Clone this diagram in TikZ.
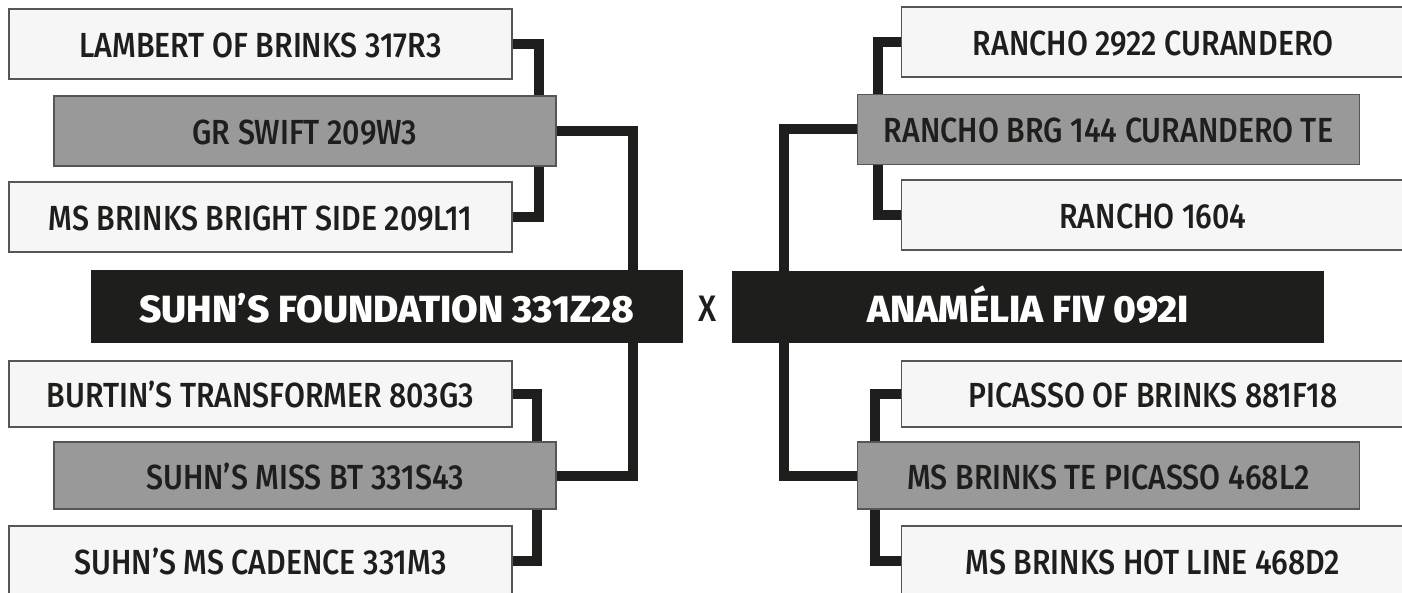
\documentclass[tikz,border=0pt]{standalone}
\usepackage{fontspec}
\setmainfont{Fira Sans}[UprightFont=* Medium,FakeStretch=0.87]
\newfontfamily\headfont{Fira Sans}[UprightFont=* ExtraBold,FakeStretch=1.02]
\usetikzlibrary{calc,positioning,backgrounds}
\definecolor{ink}{HTML}{1E1E1C}
\definecolor{paper}{HTML}{F6F6F6}
\definecolor{midgray}{HTML}{999999}

\begin{document}
\begin{tikzpicture}[x=1bp,y=-1bp,
anbox/.style={draw=ink!75,line width=1.5bp,fill=paper,text=ink,inner sep=0pt,
  text height=27bp,text depth=0pt,
  minimum width=503bp,minimum height=70bp,font=\fontsize{35}{40}\selectfont},
pbox/.style={anbox,fill=midgray,minimum width=502bp},
mainbox/.style={anbox,draw=ink,fill=ink,text=white,minimum width=590bp,minimum height=71bp,
  text height=31.5bp,font=\fontsize{38}{42}\headfont},
link/.style={draw=ink,line width=10bp}]
\useasboundingbox (0,0) rectangle (1402,593);
% sire side
\node[anbox] (lam) at (260.5,44) {LAMBERT OF BRINKS 317R3};
\node[pbox] (grs) at (305,131) {GR SWIFT 209W3};
\node[anbox] (bri) at (260.5,217) {MS BRINKS BRIGHT SIDE 209L11};
\node[mainbox] (sire) at (387,306.5) {SUHN’S FOUNDATION 331Z28};
\node[anbox,minimum height=66bp] (bur) at (260.5,394) {BURTIN’S TRANSFORMER 803G3};
\node[pbox,minimum height=67bp] (mis) at (305,475.5) {SUHN’S MISS BT 331S43};
\node[anbox] (cad) at (260.5,561) {SUHN’S MS CADENCE 331M3};
% cross
\node[text=ink,font=\fontsize{37}{42}\selectfont] (x) at (708,309) {X};
% dam side
\node[mainbox] (dam) at (1028,307) {ANAMÉLIA FIV 092I};
\node[anbox] (ran) at (1153,42) {RANCHO 2922 CURANDERO};
\node[pbox] (brg) at (1108.5,129.5) {RANCHO BRG 144 CURANDERO TE};
\node[anbox] (r16) at (1153,215) {RANCHO 1604};
\node[anbox,minimum height=66bp] (pic) at (1153,394) {PICASSO OF BRINKS 881F18};
\node[pbox,minimum height=67bp] (tep) at (1108.5,475.5) {MS BRINKS TE PICASSO 468L2};
\node[anbox] (hot) at (1153,561) {MS BRINKS HOT LINE 468D2};
\begin{pgfonlayer}{background}
\draw[link] (lam.east) -- ++(26,0) |- (bri.east);
\draw[link] (grs.east) -| ($(sire.north east)+(-50,0)$);
\draw[link] ($(sire.south east)+(-50,0)$) |- (mis.east);
\draw[link] (bur.east) -- ++(24,0) |- (cad.east);
\draw[link] (ran.west) -- ++(-23,0) |- (r16.west);
\draw[link] (brg.west) -| ($(dam.north west)+(52,0)$);
\draw[link] ($(dam.south west)+(52,0)$) |- (tep.west);
\draw[link] (pic.west) -- ++(-26,0) |- (hot.west);
\end{pgfonlayer}
\end{tikzpicture}
\end{document}
